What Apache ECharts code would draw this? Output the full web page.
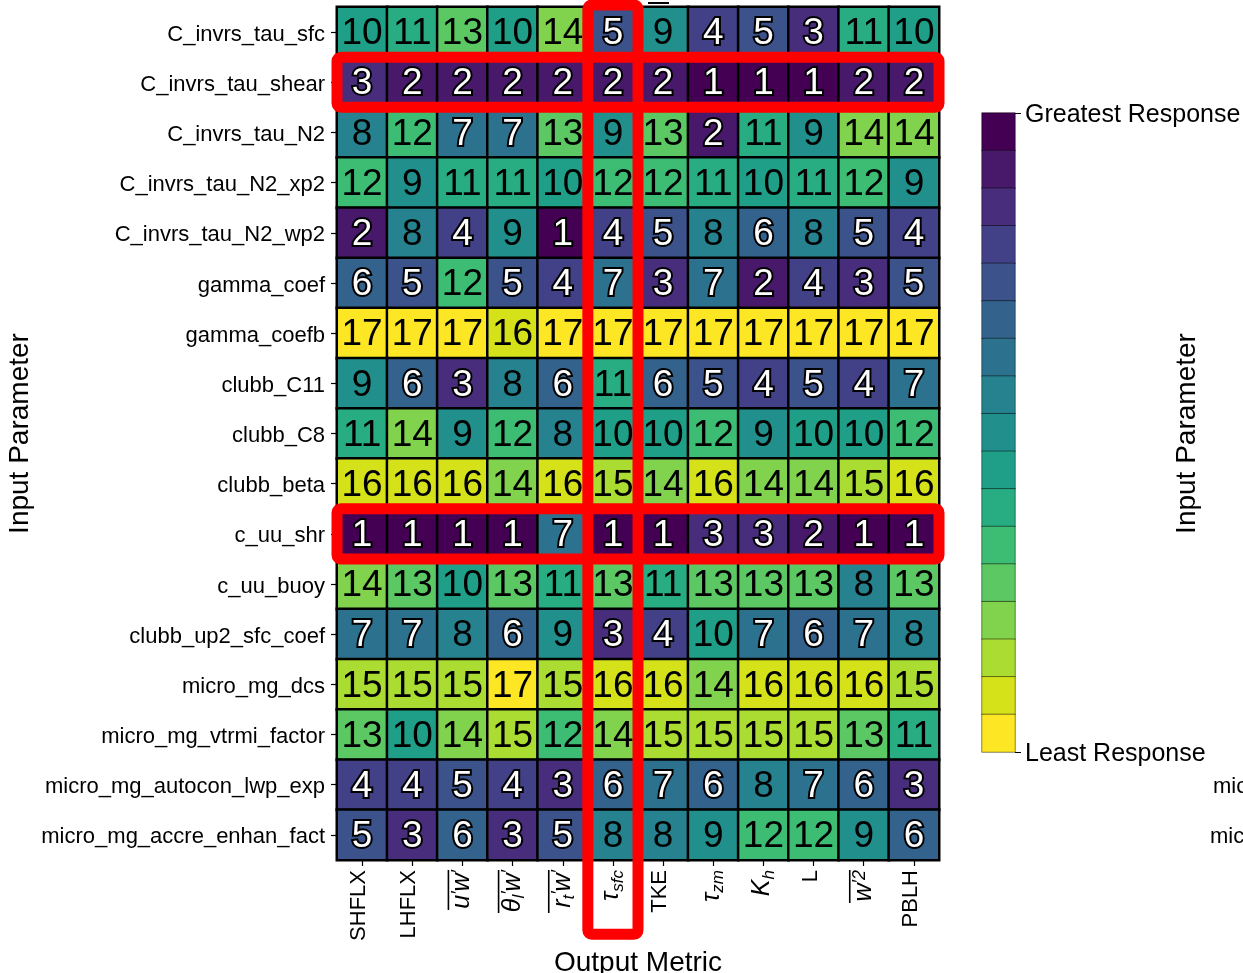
<!DOCTYPE html>
<html><head><meta charset="utf-8">
<script src="https://cdn.jsdelivr.net/npm/echarts@6.0.0/dist/echarts.min.js"></script>
<style>html,body{margin:0;padding:0;background:#fff}#c{width:1243px;height:973px}</style>
</head><body><div id="c"></div>
<script>
// ---- data ----
const params = ['C_invrs_tau_sfc','C_invrs_tau_shear','C_invrs_tau_N2','C_invrs_tau_N2_xp2','C_invrs_tau_N2_wp2',
  'gamma_coef','gamma_coefb','clubb_C11','clubb_C8','clubb_beta','c_uu_shr','c_uu_buoy','clubb_up2_sfc_coef',
  'micro_mg_dcs','micro_mg_vtrmi_factor','micro_mg_autocon_lwp_exp','micro_mg_accre_enhan_fact'];
const metrics = ['SHFLX','LHFLX','upwp','thlpwp','rtpwp','tau_sfc','TKE','tau_zm','K_h','L','wp2','PBLH'];
const metricLabels = ['{n|SHFLX}','{n|LHFLX}',
  '{olA|}\n{i|u}{sp|′}{i|w}{sp|′}',
  '{olB|}\n{i|θ}{sb|l}{sp|′}{i|w}{sp|′}',
  '{olB|}\n{i|r}{sb|t}{sp|′}{i|w}{sp|′}',
  '{i|τ}{sb|sfc}','{n|TKE}','{i|τ}{sb|zm}','{i|K}{sb|h}','{n|L}',
  '{olC|}\n{i|w}{sp|′2}','{n|PBLH}'];
const r_C_invrs_tau_sfc          = [10,11,13,10,14,5,9,4,5,3,11,10];
const r_C_invrs_tau_shear        = [3,2,2,2,2,2,2,1,1,1,2,2];
const r_C_invrs_tau_N2           = [8,12,7,7,13,9,13,2,11,9,14,14];
const r_C_invrs_tau_N2_xp2       = [12,9,11,11,10,12,12,11,10,11,12,9];
const r_C_invrs_tau_N2_wp2       = [2,8,4,9,1,4,5,8,6,8,5,4];
const r_gamma_coef               = [6,5,12,5,4,7,3,7,2,4,3,5];
const r_gamma_coefb              = [17,17,17,16,17,17,17,17,17,17,17,17];
const r_clubb_C11                = [9,6,3,8,6,11,6,5,4,5,4,7];
const r_clubb_C8                 = [11,14,9,12,8,10,10,12,9,10,10,12];
const r_clubb_beta               = [16,16,16,14,16,15,14,16,14,14,15,16];
const r_c_uu_shr                 = [1,1,1,1,7,1,1,3,3,2,1,1];
const r_c_uu_buoy                = [14,13,10,13,11,13,11,13,13,13,8,13];
const r_clubb_up2_sfc_coef       = [7,7,8,6,9,3,4,10,7,6,7,8];
const r_micro_mg_dcs             = [15,15,15,17,15,16,16,14,16,16,16,15];
const r_micro_mg_vtrmi_factor    = [13,10,14,15,12,14,15,15,15,15,13,11];
const r_micro_mg_autocon_lwp_exp = [4,4,5,4,3,6,7,6,8,7,6,3];
const r_micro_mg_accre_enhan_fact= [5,3,6,3,5,8,8,9,12,12,9,6];
const ranks = [r_C_invrs_tau_sfc,r_C_invrs_tau_shear,r_C_invrs_tau_N2,r_C_invrs_tau_N2_xp2,r_C_invrs_tau_N2_wp2,
  r_gamma_coef,r_gamma_coefb,r_clubb_C11,r_clubb_C8,r_clubb_beta,r_c_uu_shr,r_c_uu_buoy,r_clubb_up2_sfc_coef,
  r_micro_mg_dcs,r_micro_mg_vtrmi_factor,r_micro_mg_autocon_lwp_exp,r_micro_mg_accre_enhan_fact];
const levels = [1,2,3,4,5,6,7,8,9,10,11,12,13,14,15,16,17];
const colorbarLabels = ['Greatest Response','Least Response'];
const highlightRows = ['C_invrs_tau_shear','c_uu_shr'];
const highlightCols = ['tau_sfc'];

// ---- styles ----
const viridis17 = ['#440154','#48186a','#472d7b','#424086','#3b528b','#33638d','#2c728e','#26828e','#21908d',
  '#1f9f88','#27ad81','#3dbc74','#5cc863','#81d34d','#aadc32','#d5e21a','#fde725'];
const FONT = 'Liberation Sans';

const heatData = [];
ranks.forEach((row, i) => row.forEach((v, j) => heatData.push([j, i, v])));
const barData = levels.map((v, k) => [0, k, v]);

const chart = echarts.init(document.getElementById('c'), null, {renderer: 'canvas'});
const rich = {
  n:  {fontFamily: FONT, fontSize: 22, color: '#000', lineHeight: 28, verticalAlign: 'top', align: 'right'},
  i:  {fontFamily: FONT, fontSize: 25, color: '#000', fontStyle: 'italic', lineHeight: 28, verticalAlign: 'top', align: 'right'},
  sb: {fontFamily: FONT, fontSize: 17, color: '#000', fontStyle: 'italic', lineHeight: 28, verticalAlign: 'bottom', align: 'right'},
  sp: {fontFamily: FONT, fontSize: 18, color: '#000', fontStyle: 'italic', lineHeight: 28, verticalAlign: 'top', align: 'right'},
  olA:{height: 1.6, width: 40, backgroundColor: '#000', lineHeight: 3, align: 'right'},
  olB:{height: 1.6, width: 43, backgroundColor: '#000', lineHeight: 3, align: 'right'},
  olC:{height: 1.6, width: 33, backgroundColor: '#000', lineHeight: 3, align: 'right'}
};
const yRich = {p: {fontFamily: FONT, fontSize: 22, color: '#000', padding: [5, 0, 0, 0]}};

const option = {
  animation: false,
  backgroundColor: '#fff',
  textStyle: {fontFamily: FONT},
  grid: [
    {left: 337, top: 7, width: 602, height: 853, outerBoundsMode: 'none', containLabel: false},
    {left: 982, top: 113, width: 33, height: 639, outerBoundsMode: 'none', containLabel: false}
  ],
  xAxis: [
    {type: 'category', gridIndex: 0, data: metrics, position: 'bottom',
     axisLine: {show: false}, splitLine: {show: false},
     axisTick: {show: true, alignWithLabel: true, length: 6, lineStyle: {color: '#000', width: 1.2}},
     axisLabel: {interval: 0, rotate: 90, margin: 10, color: '#000', fontFamily: FONT, fontSize: 22,
       formatter: (v, idx) => metricLabels[idx], rich: rich},
     name: 'Output Metric', nameLocation: 'middle', nameGap: 80,
     nameTextStyle: {fontFamily: FONT, fontSize: 28, color: '#000'}},
    {type: 'category', gridIndex: 1, data: [''], show: false}
  ],
  yAxis: [
    {type: 'category', gridIndex: 0, data: params, inverse: true,
     axisLine: {show: false}, splitLine: {show: false},
     axisTick: {show: true, alignWithLabel: true, length: 6, lineStyle: {color: '#000', width: 1.2}},
     axisLabel: {interval: 0, margin: 12, color: '#000', fontFamily: FONT, fontSize: 22,
       formatter: v => '{p|' + v + '}', rich: yRich},
     name: 'Input Parameter', nameLocation: 'middle', nameGap: 303, nameRotate: 90,
     nameTextStyle: {fontFamily: FONT, fontSize: 28, color: '#000'}},
    {type: 'category', gridIndex: 1, data: levels.map(String), inverse: true, show: false},
    {type: 'value', gridIndex: 1, min: 0, max: 17, interval: 17, inverse: true, position: 'right',
     axisLine: {show: false}, splitLine: {show: false},
     axisTick: {show: true, length: 6, lineStyle: {color: '#000', width: 1}},
     axisLabel: {show: true, margin: 10, color: '#000', fontFamily: FONT, fontSize: 25,
       showMinLabel: true, showMaxLabel: true,
       formatter: v => '{c|' + (v === 0 ? colorbarLabels[0] : (v === 17 ? colorbarLabels[1] : '')) + '}',
       rich: {c: {fontFamily: FONT, fontSize: 25, color: '#000', padding: [5, 0, 0, 0]}}}}
  ],
  visualMap: {
    type: 'piecewise', show: false, dimension: 2, seriesIndex: [0, 1],
    pieces: levels.map((v, k) => ({value: v, color: viridis17[k]}))
  },
  series: [
    {type: 'heatmap', xAxisIndex: 0, yAxisIndex: 0, data: heatData,
     itemStyle: {borderColor: '#000', borderWidth: 2.5},
     label: {show: true, formatter: p => (p.value[2] <= 7 ? '{w|' : '{k|') + p.value[2] + '}',
       rich: {
         w: {fontFamily: FONT, fontSize: 37, color: '#fff', textBorderColor: '#000', textBorderWidth: 4, padding: [4, 0, 0, 0]},
         k: {fontFamily: FONT, fontSize: 37, color: '#000', padding: [4, 0, 0, 0]}
       }},
     emphasis: {disabled: true}},
    {type: 'heatmap', xAxisIndex: 1, yAxisIndex: 1, data: barData,
     itemStyle: {borderColor: 'rgba(0,0,0,0.6)', borderWidth: 0.8},
     label: {show: false}, emphasis: {disabled: true}}
  ]
};
chart.setOption(option);

// ---- annotations positioned through the axes ----
const xc = m => chart.convertToPixel({xAxisIndex: 0}, m);
const yc = p => chart.convertToPixel({yAxisIndex: 0}, p);
const cw = xc(metrics[1]) - xc(metrics[0]);
const ch = yc(params[1]) - yc(params[0]);
const gL = xc(metrics[0]) - cw / 2, gR = xc(metrics[metrics.length - 1]) + cw / 2;
const gT = yc(params[0]) - ch / 2, gB = yc(params[params.length - 1]) + ch / 2;
const RED = '#ff0000';
const g = [];
highlightRows.forEach(p => g.push({type: 'rect', z: 100,
  shape: {x: gL, y: yc(p) - ch / 2, width: gR - gL, height: ch, r: 4},
  style: {fill: null, stroke: RED, lineWidth: 11}}));
highlightCols.forEach(m => g.push({type: 'rect', z: 100,
  shape: {x: xc(m) - cw / 2, y: gT - 2, width: cw, height: gB + 1.48 * ch - (gT - 2), r: 4},
  style: {fill: null, stroke: RED, lineWidth: 11}}));
// neighbouring-panel remnants visible at the right edge
g.push({type: 'text', z: 100, x: 1187, y: (gT + gB) / 2, rotation: Math.PI / 2,
  style: {text: 'Input Parameter', fontFamily: FONT, fontSize: 28, fill: '#000', align: 'center', verticalAlign: 'middle'}});
[params[15], params[16]].forEach(p => g.push({type: 'text', z: 100, x: 1213 - (p === params[16] ? 3 : 0), y: yc(p) + 2,
  style: {text: p, fontFamily: FONT, fontSize: 22, fill: '#000', align: 'left', verticalAlign: 'middle'}}));
g.push({type: 'line', z: 100, shape: {x1: 648, y1: 3, x2: 669, y2: 3}, style: {stroke: '#000', lineWidth: 2}});
chart.setOption({graphic: g});
</script></body></html>
